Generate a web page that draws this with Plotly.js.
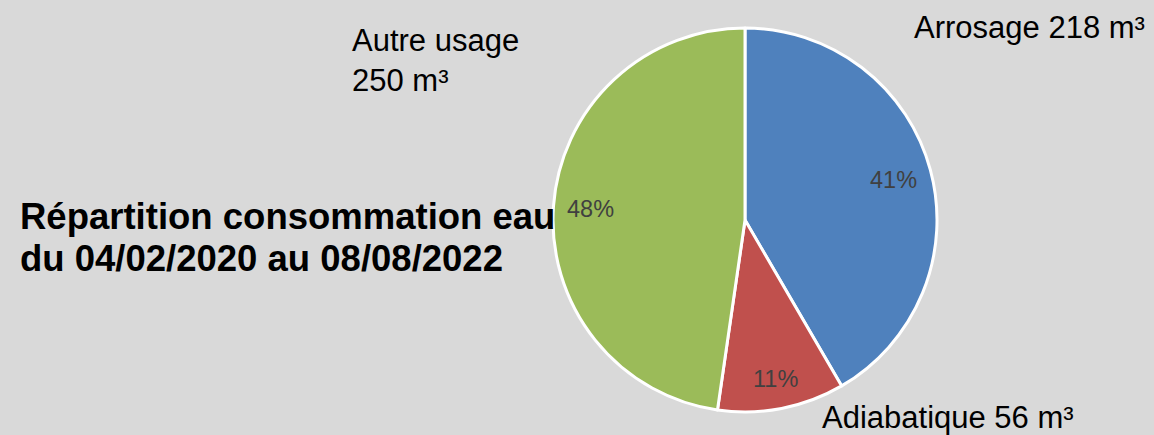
<!DOCTYPE html>
<html>
<head>
<meta charset="utf-8">
<script src="https://cdn.plot.ly/plotly-3.0.1.min.js"></script>
<style>html,body{margin:0;padding:0;background:#d9d9d9;}#chart{width:1154px;height:435px;}</style>
</head>
<body>
<div id="chart"></div>
<script>
const labels = ["Arrosage", "Adiabatique", "Autre usage"];
const values = [218, 56, 250];
const percentLabels = [41, 11, 48];   // percentages as printed on the slices
const unit = "m³";
const colors = ["#4f81bd", "#c0504d", "#9bbb59"];
const titleLines = ["Répartition consommation eau", "du 04/02/2020 au 08/08/2022"];

const W = 1154, H = 435;
const px = x => x / W;
const py = y => 1 - y / H;
const FONT = "Liberation Sans, Arial, sans-serif";

// pie geometry (pixels)
const pieTop = 28, pieBottom = 412, pieLeft = 553, pieRight = 937;
const cx = (pieLeft + pieRight) / 2, cy = (pieTop + pieBottom) / 2, R = (pieBottom - pieTop) / 2;

const trace = {
  type: "pie",
  labels: labels,
  values: values,
  sort: false,
  direction: "clockwise",
  rotation: 0,
  marker: { colors: colors, line: { color: "#ffffff", width: 3 } },
  textinfo: "none",
  hoverinfo: "label+value+percent",
  showlegend: false,
  domain: { x: [px(pieLeft), px(pieRight)], y: [py(pieBottom), py(pieTop)] }
};

// percent labels placed at the inner end of each slice, along its mid angle
const total = values.reduce((a, b) => a + b, 0);
const pctSize = 23.5;
let cum = 0;
const pctAnnotations = values.map((v, i) => {
  const mid = (cum + v / 2) / total * 2 * Math.PI;
  cum += v;
  const txt = percentLabels[i] + "%";
  const w = txt.length * 0.62 * pctSize, h = 1.05 * pctSize;
  const r = R - 14 - (w / 2 * Math.abs(Math.sin(mid)) + h / 2 * Math.abs(Math.cos(mid)));
  return {
    xref: "paper", yref: "paper",
    x: px(cx + r * Math.sin(mid)), y: py(cy - r * Math.cos(mid)),
    xanchor: "center", yanchor: "middle",
    showarrow: false, text: txt,
    font: { family: FONT, size: pctSize, color: "#404040" }
  };
});

const labelPos = [
  { x: 912, y: 27, lines: 1 },
  { x: 820, y: 417, lines: 1 },
  { x: 350, y: 60, lines: 2 }
];
const labelAnnotations = labels.map((l, i) => ({
  xref: "paper", yref: "paper",
  x: px(labelPos[i].x), y: py(labelPos[i].y),
  xanchor: "left", yanchor: "middle", align: "left",
  showarrow: false,
  text: labelPos[i].lines === 2 ? (l + "<br>" + values[i] + " " + unit) : (l + " " + values[i] + " " + unit),
  font: { family: FONT, size: 31, color: "#000000" }
}));

const titleY = [216.5, 258.5];
const titleAnnotations = titleLines.map((t, i) => ({
  xref: "paper", yref: "paper",
  x: px(18), y: py(titleY[i]),
  xanchor: "left", yanchor: "middle", align: "left",
  showarrow: false,
  text: "<b>" + t + "</b>",
  font: { family: FONT, size: 36.5, color: "#000000" }
}));

const layout = {
  width: W, height: H,
  margin: { l: 0, r: 0, t: 0, b: 0 },
  paper_bgcolor: "#d9d9d9",
  plot_bgcolor: "#d9d9d9",
  annotations: titleAnnotations.concat(labelAnnotations, pctAnnotations)
};

Plotly.newPlot("chart", [trace], layout, { displayModeBar: false, staticPlot: true });
</script>
</body>
</html>
